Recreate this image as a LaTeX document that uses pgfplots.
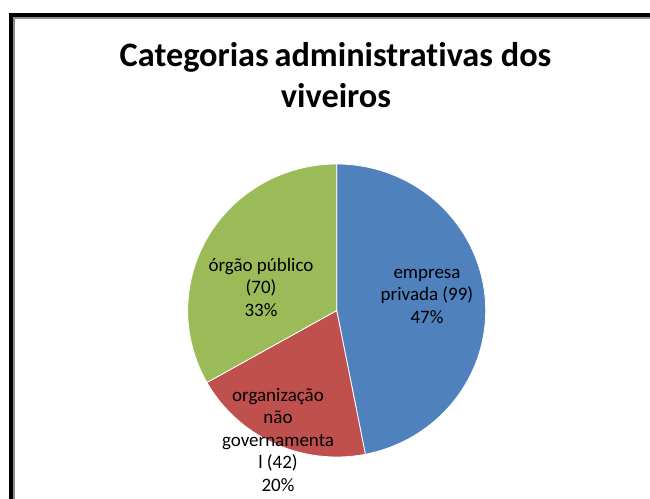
\documentclass[border=0pt]{standalone}
\usepackage{fontspec}
\setmainfont{Carlito}[Ligatures=NoCommon]
\usepackage{pgfplots}
\usepackage{pgfplotstable}
\pgfplotsset{compat=1.18}
\definecolor{pieblue}{HTML}{4F81BD}
\definecolor{piered}{HTML}{C0504D}
\definecolor{piegreen}{HTML}{9BBB59}
\pgfplotstableread{
cat value
empresa 99
ong 42
orgao 70
}\piedata
\begin{document}
\begin{tikzpicture}[x=1pt,y=1pt]
\useasboundingbox (0,0) rectangle (650,498);
\clip (0,0) rectangle (650,498);
\fill[white] (0,0) rectangle (650,498);
\pgfplotstablegetelem{0}{value}\of\piedata \let\vA\pgfplotsretval
\pgfplotstablegetelem{1}{value}\of\piedata \let\vB\pgfplotsretval
\pgfplotstablegetelem{2}{value}\of\piedata \let\vC\pgfplotsretval
\pgfmathsetmacro\tot{\vA+\vB+\vC}
\pgfmathsetmacro\aA{90-360*(\vA/\tot)}
\pgfmathsetmacro\aB{\aA-360*(\vB/\tot)}
\pgfmathsetmacro\aC{\aB-360*(\vC/\tot)}
\begin{axis}[scale only axis, width=298pt, height=293pt,
  xmin=-1, xmax=1, ymin=-1, ymax=1, hide axis, clip=false,
  at={(336.7pt,187.5pt)}, anchor=center]
\addplot[fill=pieblue, draw=white, line width=0.8pt, domain=\aA:90, samples=120]
  ({cos(x)},{sin(x)}) -- (axis cs:0,0) -- cycle;
\addplot[fill=piered, draw=white, line width=0.8pt, domain=\aB:\aA, samples=60]
  ({cos(x)},{sin(x)}) -- (axis cs:0,0) -- cycle;
\addplot[fill=piegreen, draw=white, line width=0.8pt, domain=\aC:\aB, samples=90]
  ({cos(x)},{sin(x)}) -- (axis cs:0,0) -- cycle;
\node[align=center, font=\fontsize{19}{22.5}\selectfont] at (axis cs:0.606,0.096) {empresa\\privada (99)\\47\%};
\node[align=center, font=\fontsize{19}{22.5}\selectfont] at (axis cs:-0.508,0.160) {órgão público\\(70)\\33\%};
\node[align=center, font=\fontsize{19}{22.5}\selectfont] at (axis cs:-0.394,-0.884) {organização\\não\\governamenta\\l (42)\\20\%};
\end{axis}
\node[anchor=base, font=\fontsize{34.3}{40}\selectfont\bfseries] at (335.5,431.3) {Categorias\hspace{-2pt} administrativas dos};
\node[anchor=base, font=\fontsize{34.3}{40}\selectfont\bfseries] at (336,390) {viveiros};
\draw[line width=4.3pt, black, line join=miter] (11.2,-10) -- (11.2,482.7) -- (660,482.7);
\draw[line width=1.5pt, black!45, line join=miter] (14.2,-10) -- (14.2,479.9) -- (660,479.9);
\end{tikzpicture}
\end{document}
